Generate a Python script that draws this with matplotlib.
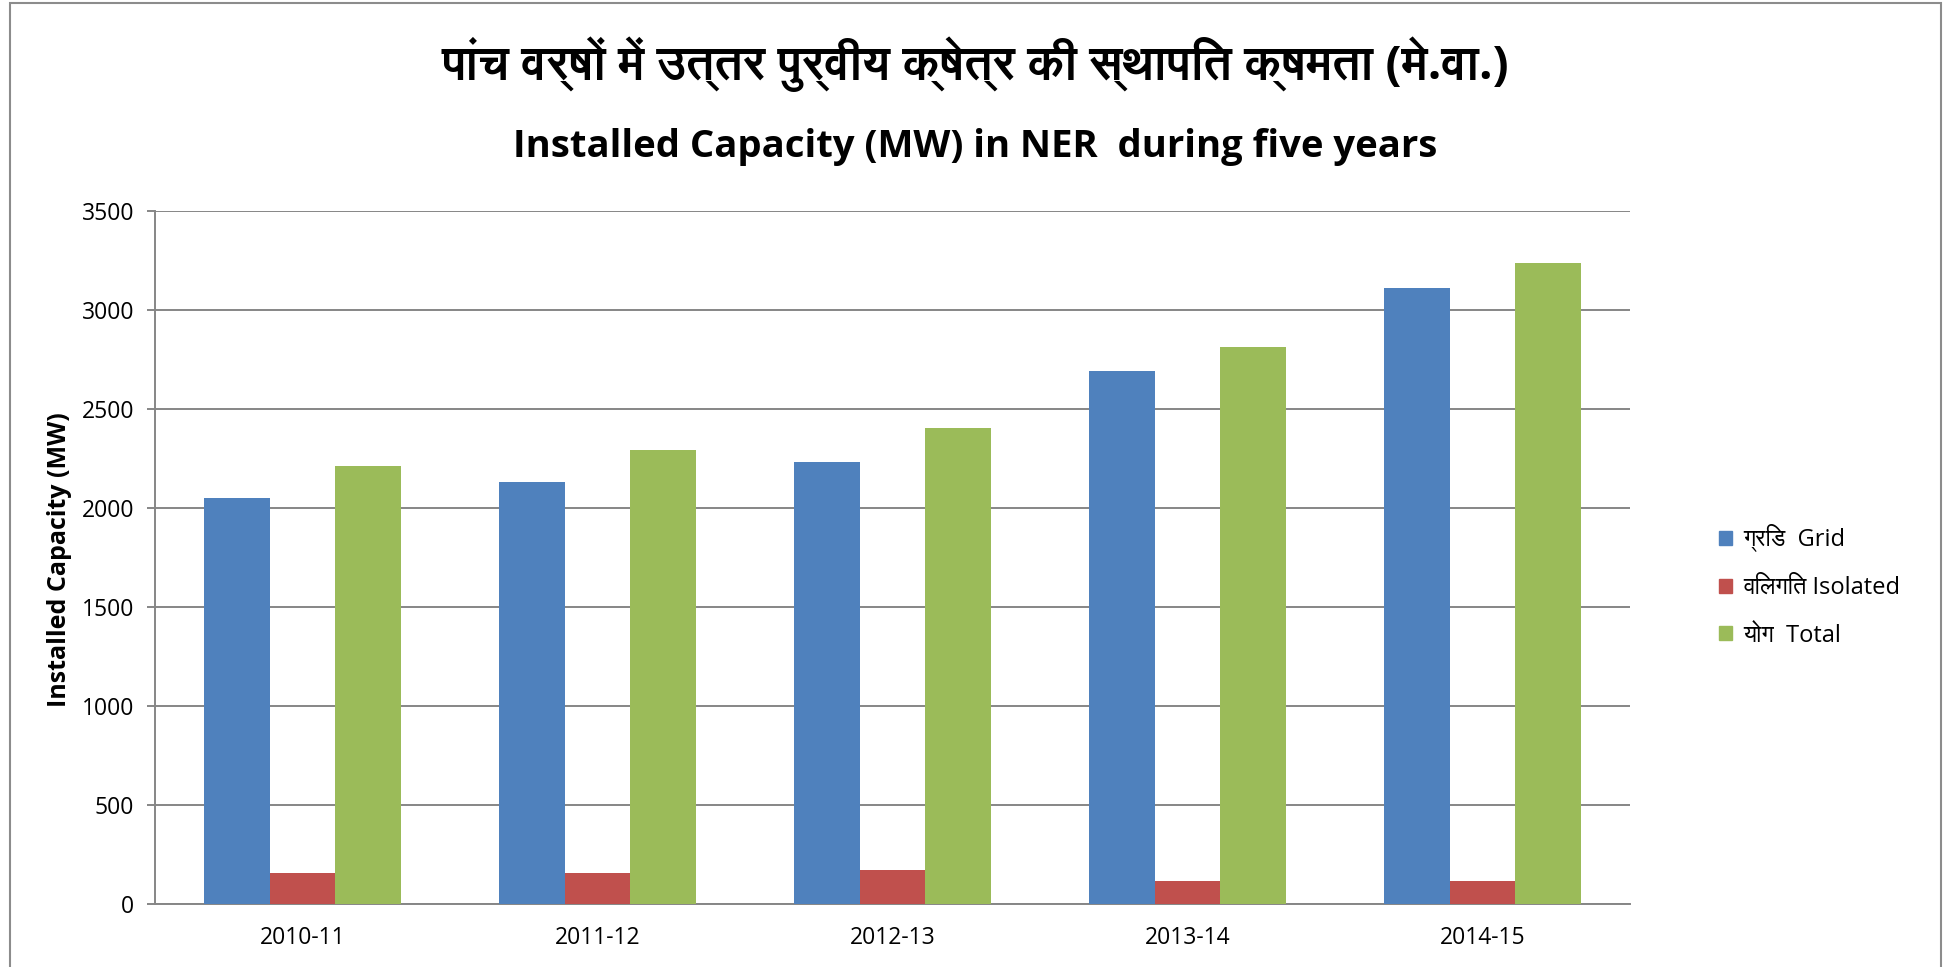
import numpy as np
import matplotlib
matplotlib.use('Agg')
import matplotlib.pyplot as plt
from matplotlib import font_manager, ft2font
from matplotlib.patches import Rectangle, Patch

# data
years = ['2010-11', '2011-12', '2012-13', '2013-14', '2014-15']
grid = [2050, 2131, 2231, 2690, 3113]
isolated = [157, 158, 170, 118, 118]
total = [2214, 2293, 2406, 2813, 3237]

series_labels = ['ग्रिड  Grid', 'विलगित Isolated', 'योग  Total']
colors = ['#4F81BD', '#C0504D', '#9BBB59']

title_hi = 'पांच वर्षों में उत्तर पुर्वीय क्षेत्र की स्थापित क्षमता (मे.वा.)'
title_en = 'Installed Capacity (MW) in NER  during five years'


# look for installed fonts that have devanagari glyphs, prefer sans, avoid mono
def find_font(ch):
    names = set()
    for f in font_manager.fontManager.ttflist:
        try:
            if ord(ch) in ft2font.FT2Font(f.fname).get_charmap():
                names.add(f.name)
        except Exception:
            pass
    if not names:
        return None

    def rank(n):
        return ('Mono' in n, 'Sans' not in n, n)
    return sorted(names, key=rank)[0]


deva = find_font('प')
base = 'Open Sans'
fam = [base, deva] if deva else [base, 'DejaVu Sans']
plt.rcParams['font.family'] = fam

fig = plt.figure(figsize=(19.51, 9.67), dpi=100)
ax = fig.add_axes([155 / 1951, 1 - 904 / 967, (1630 - 155) / 1951, (904 - 211) / 967])

x = np.arange(len(years))
w = 0.222
for i, (vals, c) in enumerate(zip([grid, isolated, total], colors)):
    ax.bar(x + (i - 1) * w, vals, w, color=c, zorder=3)

ax.set_xlim(-0.5, len(years) - 0.5)
ax.set_ylim(0, 3500)
ax.set_yticks(np.arange(0, 3501, 500))
ax.set_xticks(x)
ax.set_xticklabels(years)
ax.yaxis.grid(True, color='#868686', lw=1.4, zorder=0)
for s in ['top', 'right']:
    ax.spines[s].set_visible(False)
for s in ['left', 'bottom']:
    ax.spines[s].set_color('#868686')
    ax.spines[s].set_linewidth(1.4)
ax.tick_params(axis='y', length=6, width=1.4, color='#868686', pad=9, labelsize=16.5)
ax.tick_params(axis='x', length=0, pad=16, labelsize=16.5)

fig.text(60 / 1951, 1 - 560 / 967, 'Installed Capacity (MW)', rotation=90,
         ha='center', va='center', fontsize=18, fontweight='bold')

fig.text(0.5, 1 - 64 / 967, title_hi, ha='center', va='center',
         fontsize=34, fontweight='bold')
fig.text(0.5, 1 - 147 / 967, title_en, ha='center', va='center',
         fontsize=27.5, fontweight='bold')

handles = [Patch(color=c) for c in colors]
fig.legend(handles, series_labels, loc='center left',
           bbox_to_anchor=(1698 / 1951, 1 - 586 / 967), frameon=False,
           fontsize=17, handlelength=0.55, handleheight=0.55,
           handletextpad=0.45, labelspacing=1.0)

# outer chart border
fig.patches.append(Rectangle((10 / 1951, -0.05), 1931 / 1951, 1.05 - 3 / 967,
                             transform=fig.transFigure, fill=False,
                             edgecolor='#8c8c8c', lw=1.5))

fig.savefig('out.png', dpi=100)
